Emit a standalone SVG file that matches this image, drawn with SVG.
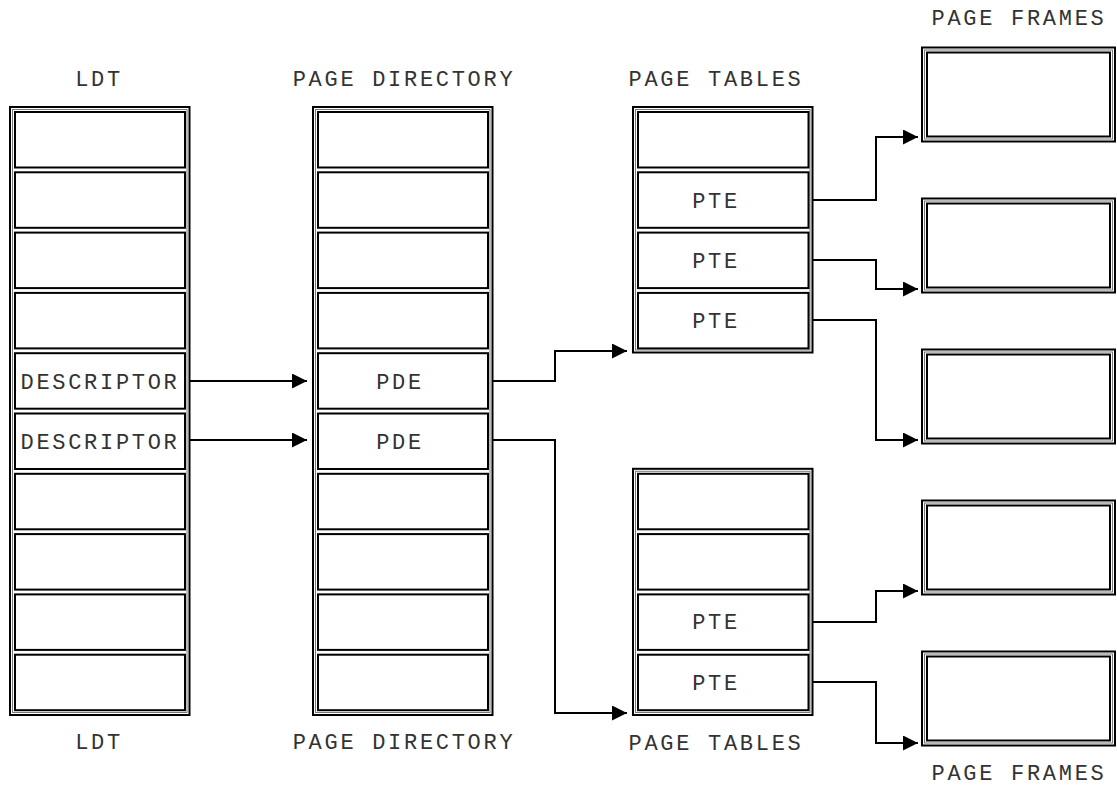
<svg xmlns="http://www.w3.org/2000/svg" width="1117" height="787" viewBox="0 0 1117 787">
<style>
.o{fill:none;stroke:#000;stroke-width:2}
.m{fill:none;stroke:#777;stroke-width:1}
.c{fill:#fff;stroke:#000;stroke-width:2}
.t{font-family:"Liberation Mono",monospace;font-size:22px;letter-spacing:2.7px;fill:#333;text-anchor:middle}
.w{fill:none;stroke:#000;stroke-width:2}
</style>
<defs>
<marker id="ar" markerUnits="userSpaceOnUse" markerWidth="16" markerHeight="16" refX="15" refY="7.5" orient="auto">
<path d="M0,0 L15,7.5 L0,15 z" fill="#000"/>
</marker>
</defs>
<rect width="1117" height="787" fill="#fff"/>

<g id="ldt">
<text class="t" x="99" y="86">LDT</text>
<rect class="o" x="10" y="107" width="179.5" height="608"/>
<rect class="m" x="12.5" y="109.5" width="174.5" height="603"/>
<rect class="c" x="15" y="112" width="170" height="55.5"/>
<rect class="c" x="15" y="172.3" width="170" height="55.5"/>
<rect class="c" x="15" y="232.6" width="170" height="55.5"/>
<rect class="c" x="15" y="292.9" width="170" height="55.5"/>
<rect class="c" x="15" y="353.2" width="170" height="55.5"/>
<rect class="c" x="15" y="413.5" width="170" height="55.5"/>
<rect class="c" x="15" y="473.8" width="170" height="55.5"/>
<rect class="c" x="15" y="534.1" width="170" height="55.5"/>
<rect class="c" x="15" y="594.4" width="170" height="55.5"/>
<rect class="c" x="15" y="654.7" width="170" height="55.5"/>
<text class="t" x="100" y="388.5">DESCRIPTOR</text>
<text class="t" x="100" y="448.5">DESCRIPTOR</text>
<text class="t" x="99" y="749">LDT</text>
</g>

<g id="page-directory">
<text class="t" x="404" y="86">PAGE DIRECTORY</text>
<rect class="o" x="313" y="107" width="179.5" height="608"/>
<rect class="m" x="315.5" y="109.5" width="174.5" height="603"/>
<rect class="c" x="318" y="112" width="170" height="55.5"/>
<rect class="c" x="318" y="172.3" width="170" height="55.5"/>
<rect class="c" x="318" y="232.6" width="170" height="55.5"/>
<rect class="c" x="318" y="292.9" width="170" height="55.5"/>
<rect class="c" x="318" y="353.2" width="170" height="55.5"/>
<rect class="c" x="318" y="413.5" width="170" height="55.5"/>
<rect class="c" x="318" y="473.8" width="170" height="55.5"/>
<rect class="c" x="318" y="534.1" width="170" height="55.5"/>
<rect class="c" x="318" y="594.4" width="170" height="55.5"/>
<rect class="c" x="318" y="654.7" width="170" height="55.5"/>
<text class="t" x="400" y="388.5">PDE</text>
<text class="t" x="400" y="448.5">PDE</text>
<text class="t" x="404" y="749">PAGE DIRECTORY</text>
</g>

<g id="page-tables-top">
<text class="t" x="716" y="86">PAGE TABLES</text>
<rect class="o" x="633" y="107" width="179.5" height="245.5"/>
<rect class="m" x="635.5" y="109.5" width="174.5" height="240.5"/>
<rect class="c" x="638" y="112" width="170.5" height="55.5"/>
<rect class="c" x="638" y="172.3" width="170.5" height="55.5"/>
<rect class="c" x="638" y="232.6" width="170.5" height="55.5"/>
<rect class="c" x="638" y="292.9" width="170.5" height="55.5"/>
<text class="t" x="716" y="207.5">PTE</text>
<text class="t" x="716" y="267.8">PTE</text>
<text class="t" x="716" y="328.1">PTE</text>
</g>

<g id="page-tables-bottom">
<rect class="o" x="633" y="468.8" width="179.5" height="246.2"/>
<rect class="m" x="635.5" y="471.3" width="174.5" height="241.2"/>
<rect class="c" x="638" y="473.8" width="170.5" height="55.5"/>
<rect class="c" x="638" y="534.1" width="170.5" height="55.5"/>
<rect class="c" x="638" y="594.4" width="170.5" height="55.5"/>
<rect class="c" x="638" y="654.7" width="170.5" height="55.5"/>
<text class="t" x="716" y="629.4">PTE</text>
<text class="t" x="716" y="689.7">PTE</text>
<text class="t" x="716" y="750">PAGE TABLES</text>
</g>

<g id="page-frames">
<text class="t" x="1019" y="25">PAGE FRAMES</text>
<g id="frame1">
<rect class="o" x="922" y="47.5" width="193" height="94"/>
<rect class="m" x="924.5" y="50" width="188" height="89"/>
<rect class="o" x="927" y="52.5" width="183" height="84"/>
</g>
<g id="frame2">
<rect class="o" x="922" y="198.5" width="193" height="94"/>
<rect class="m" x="924.5" y="201" width="188" height="89"/>
<rect class="o" x="927" y="203.5" width="183" height="84"/>
</g>
<g id="frame3">
<rect class="o" x="922" y="349.5" width="193" height="94"/>
<rect class="m" x="924.5" y="352" width="188" height="89"/>
<rect class="o" x="927" y="354.5" width="183" height="84"/>
</g>
<g id="frame4">
<rect class="o" x="922" y="500.5" width="193" height="94"/>
<rect class="m" x="924.5" y="503" width="188" height="89"/>
<rect class="o" x="927" y="505.5" width="183" height="84"/>
</g>
<g id="frame5">
<rect class="o" x="922" y="651.5" width="193" height="94"/>
<rect class="m" x="924.5" y="654" width="188" height="89"/>
<rect class="o" x="927" y="656.5" width="183" height="84"/>
</g>
<text class="t" x="1019" y="780">PAGE FRAMES</text>
</g>

<g id="connectors">
<path class="w" marker-end="url(#ar)" d="M190,381 H307"/>
<path class="w" marker-end="url(#ar)" d="M190,440 H307"/>
<path class="w" marker-end="url(#ar)" d="M493,381 H555 V351 H627"/>
<path class="w" marker-end="url(#ar)" d="M493,440 H555 V713 H627"/>
<path class="w" marker-end="url(#ar)" d="M813,200 H876 V137 H918"/>
<path class="w" marker-end="url(#ar)" d="M813,260 H876 V289 H918"/>
<path class="w" marker-end="url(#ar)" d="M813,320 H876 V440 H918"/>
<path class="w" marker-end="url(#ar)" d="M813,622 H876 V591 H918"/>
<path class="w" marker-end="url(#ar)" d="M813,682 H876 V743 H918"/>
</g>
</svg>
